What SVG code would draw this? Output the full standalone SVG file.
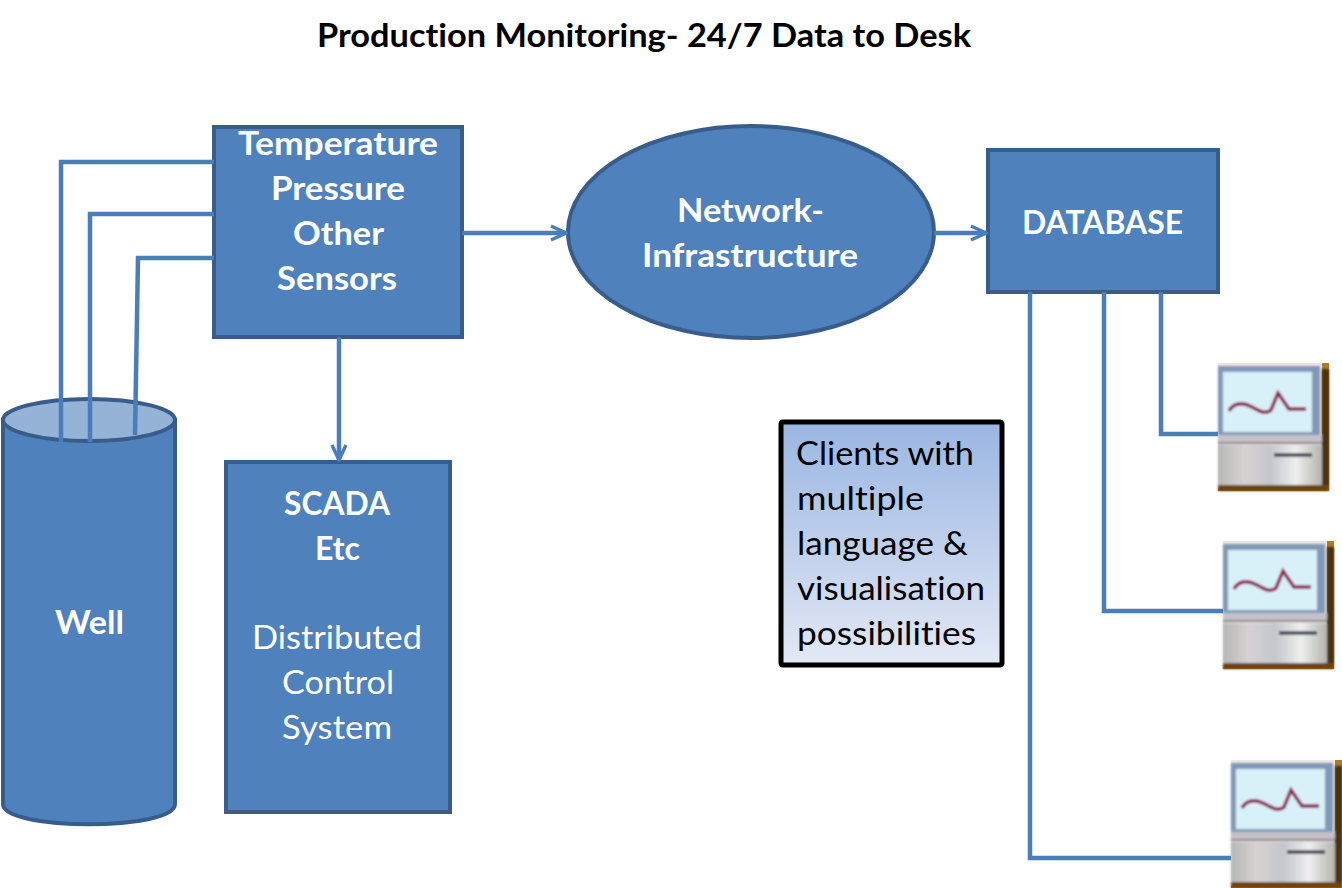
<svg xmlns="http://www.w3.org/2000/svg" width="1342" height="888" viewBox="0 0 1342 888">
<style>
text{font-family:Lato,"Open Sans","Liberation Sans",sans-serif;font-size:33px;fill:#fff;font-variant-ligatures:none}
.b{font-weight:700}
.k{fill:#000}
.n{fill:#4f81bd;stroke:#385d8a;stroke-width:4}
.c{fill:none;stroke:#4a7ebb;stroke-width:4.5}
</style>
<defs>
<marker id="a" markerUnits="userSpaceOnUse" markerWidth="18" markerHeight="18" refX="16" refY="9" orient="auto"><path d="M1 2L16 9L1 16" fill="none" stroke="#4a7ebb" stroke-width="3.5"/></marker>
<linearGradient id="g" x1="0" y1="0" x2="0" y2="1"><stop offset="0" stop-color="#9ab6e2"/><stop offset="1" stop-color="#e3e9f5"/></linearGradient>
<linearGradient id="base" x1="0" y1="0" x2="1" y2="0"><stop offset="0" stop-color="#b5b7b6"/><stop offset=".25" stop-color="#d6d2d2"/><stop offset=".5" stop-color="#c4c6cc"/><stop offset=".75" stop-color="#eeeeee"/><stop offset="1" stop-color="#b4b4ae"/></linearGradient>
<filter id="bl" x="-5%" y="-5%" width="110%" height="110%"><feGaussianBlur stdDeviation="1.1"/></filter>
<g id="pc">
<rect width="111" height="128" fill="#b07a20"/>
<rect x="0" y="0" width="104" height="126" fill="#efe6e2"/>
<g filter="url(#bl)">
<rect x="104" y="6" width="7" height="122" fill="#4a3010"/>
<rect y="122" width="111" height="6" fill="#6d4310"/>
<rect x="0" y="3" width="102" height="74" fill="#8199b8"/>
<rect x="5" y="9" width="89" height="60" fill="#d8f0f8"/>
<rect x="0" y="72" width="104" height="7" fill="#c4c2c8"/>
<rect x="0" y="82" width="104" height="40" fill="url(#base)"/>
<path d="M0 80H104" stroke="#8a8a8a" stroke-width="2"/>
<path d="M56 92H94" stroke="#3c4550" stroke-width="3.5"/>
<path d="M11 48C17 38 26 40 34 44C41 48 48 52 53 47L60 30L71 46H88" fill="none" stroke="#8c1c4c" stroke-width="3.4"/>
</g>
</g>
</defs>
<text class="b k" x="317" y="47" textLength="654" lengthAdjust="spacingAndGlyphs">Production Monitoring- 24/7 Data to Desk</text>
<g id="well">
<path class="n" d="M3 420V804C3 831 175 831 175 804V420Z"/>
<ellipse cx="89" cy="420" rx="86" ry="21" fill="#95b3d7" stroke="#385d8a" stroke-width="4"/>
<text class="b" x="55" y="634" textLength="69" lengthAdjust="spacingAndGlyphs">Well</text>
</g>
<g id="sensors">
<rect class="n" x="214" y="127" width="248" height="210"/>
<text class="b" x="238" y="155" textLength="200" lengthAdjust="spacingAndGlyphs">Temperature</text>
<text class="b" x="271" y="200" textLength="134" lengthAdjust="spacingAndGlyphs">Pressure</text>
<text class="b" x="293" y="245" textLength="91" lengthAdjust="spacingAndGlyphs">Other</text>
<text class="b" x="277" y="290" textLength="120" lengthAdjust="spacingAndGlyphs">Sensors</text>
</g>
<g id="network">
<ellipse class="n" cx="751" cy="232" rx="183" ry="106"/>
<text class="b" x="677" y="222" textLength="147" lengthAdjust="spacingAndGlyphs">Network-</text>
<text class="b" x="642" y="267" textLength="216" lengthAdjust="spacingAndGlyphs">Infrastructure</text>
</g>
<g id="database">
<rect class="n" x="988" y="150" width="230" height="142"/>
<text class="b" x="1022" y="234" textLength="161" lengthAdjust="spacingAndGlyphs">DATABASE</text>
</g>
<g id="scada">
<rect class="n" x="226" y="462" width="224" height="350"/>
<text class="b" x="284" y="515" textLength="106" lengthAdjust="spacingAndGlyphs">SCADA</text>
<text class="b" x="315" y="560" textLength="45" lengthAdjust="spacingAndGlyphs">Etc</text>
<text x="252" y="649" textLength="170" lengthAdjust="spacingAndGlyphs">Distributed</text>
<text x="282" y="694" textLength="112" lengthAdjust="spacingAndGlyphs">Control</text>
<text x="282" y="739" textLength="110" lengthAdjust="spacingAndGlyphs">System</text>
</g>
<g id="clients-note">
<rect x="781" y="422" width="221" height="243" fill="url(#g)" stroke="#000" stroke-width="5" rx="2"/>
<text class="k" x="796" y="465" textLength="178" lengthAdjust="spacingAndGlyphs">Clients with</text>
<text class="k" x="797" y="510" textLength="127" lengthAdjust="spacingAndGlyphs">multiple</text>
<text class="k" x="797" y="555" textLength="171" lengthAdjust="spacingAndGlyphs">language &amp;</text>
<text class="k" x="797" y="600" textLength="188" lengthAdjust="spacingAndGlyphs">visualisation</text>
<text class="k" x="797" y="645" textLength="179" lengthAdjust="spacingAndGlyphs">possibilities</text>
</g>
<g id="client-1"><use href="#pc" x="1218" y="363"/></g>
<g id="client-2"><use href="#pc" x="1223" y="541"/></g>
<g id="client-3"><use href="#pc" x="1231" y="760"/></g>
<g id="connectors">
<path class="c" d="M214 162H61V442"/>
<path class="c" d="M214 214H90V442"/>
<path class="c" d="M214 258H138L135 435"/>
<path class="c" d="M462 233H566" marker-end="url(#a)"/>
<path class="c" d="M934 233H986" marker-end="url(#a)"/>
<path class="c" d="M339 337V460" marker-end="url(#a)"/>
<path class="c" d="M1161 292V434H1218"/>
<path class="c" d="M1104 292V611H1223"/>
<path class="c" d="M1030 292V858H1231"/>
</g>
</svg>
